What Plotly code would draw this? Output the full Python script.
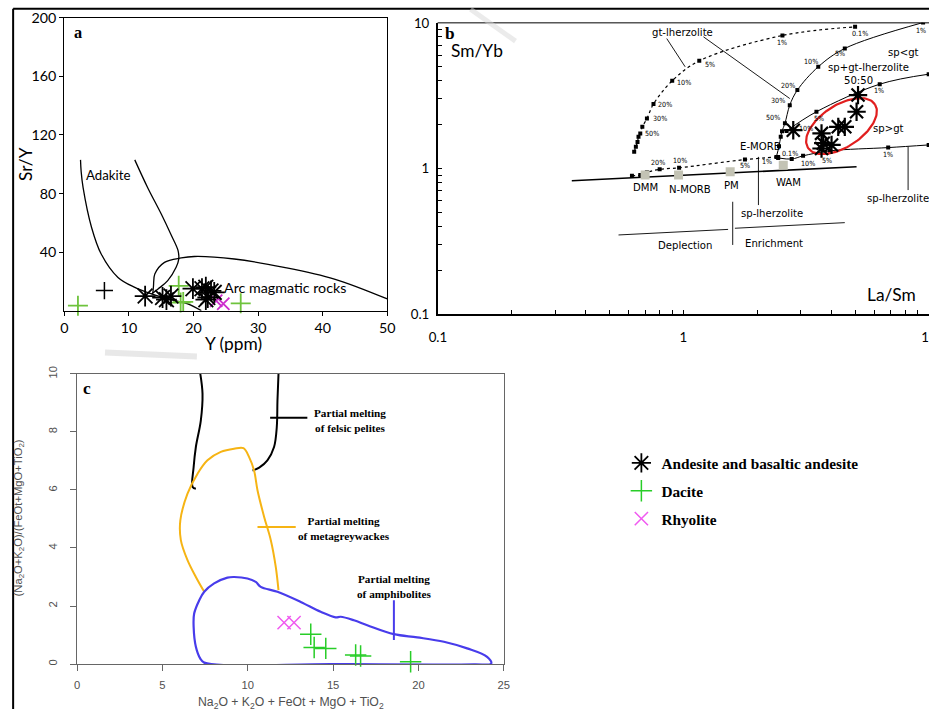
import numpy as np
import plotly.graph_objects as go

# Calibrated page mapping: picture = (8 px body margin + figure px) * (929/945, 709/725)
PIC_W, PIC_H, OFF = 929, 709, 8
SX, SY = 945 / 929, 725 / 709
FW, FH = 937, 717
K = 1.02  # compensation for the slight down-scaling of text and markers

def px(x):
    return (x * SX - OFF) / FW

def py(y):
    return 1 - (y * SY - OFF) / FH

def fs(s):
    return s * K

# ---------------- Panel a data (Sr/Y vs Y) ----------------
adakite_left_x = [2.5, 2.6, 2.9, 4.2, 5.7, 8.3, 10.9, 13.5, 17.1, 19.1, 21.2]
adakite_left_y = [103, 95, 84, 57, 38.7, 22.7, 15.9, 11.4, 6.8, 4.7, 0]
adakite_right_x = [10.9, 12.9, 15.0, 16.5, 17.6, 17.7, 17.3, 16.0, 14.5, 13.5]
adakite_right_y = [103, 84, 66, 52, 41, 35, 29.6, 20.5, 14.8, 11.4]
arc_x = [13.7, 13.8, 14.0, 15.5, 18.1, 20.1, 26.3, 34.0, 41.8, 50.0]
arc_y = [12, 17, 25, 33, 36, 37, 35.3, 29.6, 21.6, 8]

andesite_a_x = [12.5, 15.2, 15.8, 16.5, 19.9, 21.3, 21.9, 22.7, 22.2, 23.2, 21.9]
andesite_a_y = [10, 9, 7.5, 10, 15, 15, 16, 13.5, 9, 12.5, 7.5]
dacite_a_x = [2.1, 17.7, 18.0, 18.4, 27.3]
dacite_a_y = [3.4, 17, 5.5, 6, 5]
other_a_x = [6.2]
other_a_y = [13.7]
rhyolite_a_x = [23.5, 24.6]
rhyolite_a_y = [6.8, 4.8]

# ---------------- Panel b data (Sm/Yb vs La/Sm) ----------------
gt_x = [0.63, 0.64, 0.65, 0.656, 0.667, 0.68, 0.71, 0.755, 0.90, 1.16, 2.53, 5.0]
gt_y = [1.30, 1.41, 1.52, 1.65, 1.74, 1.93, 2.20, 2.77, 4.0, 5.48, 8.19, 9.39]
dmm_x = [0.617, 0.667, 0.71, 0.80, 0.96, 1.78, 2.43]
dmm_y = [0.89, 0.90, 0.94, 0.985, 1.01, 1.15, 1.20]
steep_x = [2.39, 2.45, 2.49, 2.52, 2.59, 2.71, 2.91, 3.54, 4.54, 9.46]
steep_y = [1.20, 1.42, 1.65, 1.80, 2.04, 2.72, 3.45, 4.99, 6.67, 10.05]
mix_x = [2.63, 3.48, 6.30, 9.97]
mix_y = [1.81, 2.45, 3.79, 4.44]
sp_x = [2.43, 2.76, 3.07, 3.95, 6.82, 9.97]
sp_y = [1.18, 1.16, 1.22, 1.32, 1.39, 1.45]
base_x = [0.351, 5.07]
base_y = [0.823, 1.027]
reservoir_x = [0.698, 0.955, 1.55, 2.55]
reservoir_y = [0.90, 0.90, 0.95, 1.05]

andesite_b_x = [2.80, 3.65, 3.71, 4.01, 3.65, 4.27, 4.54, 5.07, 5.14]
andesite_b_y = [1.83, 1.74, 1.49, 1.45, 1.37, 1.93, 1.93, 2.45, 3.19]

# leader / guide lines in panel b
guide_lines_b = [
    ([0.855, 1.016], [7.8, 4.99]),
    ([1.206, 2.71], [8.02, 3.02]),
    ([2.02, 2.02], [1.20, 0.56]),
    ([8.22, 8.22], [1.41, 0.71]),
    ([0.544, 1.52], [0.349, 0.381]),
    ([1.62, 4.54], [0.388, 0.424]),
    ([1.587, 1.587], [0.59, 0.298]),
]

# ---------------- Panel c data ----------------
felsic_left_x = [7.22, 7.35, 7.25, 6.96, 6.83, 6.77, 6.96]
felsic_left_y = [10.0, 9.31, 8.39, 7.48, 6.79, 6.10, 6.04]
felsic_right_x = [11.80, 11.74, 11.70, 11.54, 11.15, 10.67, 10.28]
felsic_right_y = [10.0, 9.08, 8.17, 7.48, 7.02, 6.77, 6.67]
greywacke_x = [7.45, 6.96, 6.47, 6.08, 6.05, 6.47, 7.06, 7.64, 8.42, 9.20, 9.75,
               10.08, 10.37, 10.57, 10.96, 11.35, 11.64, 11.80]
greywacke_y = [2.49, 3.00, 3.58, 4.27, 4.95, 5.87, 6.56, 7.02, 7.31, 7.42, 7.44,
               7.13, 6.67, 5.99, 5.07, 4.27, 3.35, 2.55]
amphib_x = [7.45, 8.03, 8.81, 9.20, 9.98, 10.47, 10.76, 11.74, 13.10, 14.27, 15.15,
            15.44, 16.22, 17.00, 18.56, 19.93, 21.49, 22.85, 24.02, 24.26, 23.25,
            15.05, 7.45, 7.22, 6.96, 6.83, 6.86, 7.16, 7.45]
amphib_y = [2.49, 2.78, 2.98, 3.00, 2.95, 2.83, 2.66, 2.49, 2.14, 1.80, 1.61,
            1.63, 1.51, 1.34, 1.03, 0.92, 0.77, 0.54, 0.25, 0.02, -0.01,
            0.0, 0.05, 0.19, 0.60, 1.28, 1.74, 2.20, 2.49]
dacite_c_x = [13.69, 13.89, 14.57, 16.32, 16.61, 19.54]
dacite_c_y = [1.03, 0.57, 0.54, 0.31, 0.28, 0.08]
rhyolite_c_x = [12.13, 12.71]
rhyolite_c_y = [1.43, 1.43]

BLUE = "rgb(72,60,235)"
ORANGE = "rgb(246,180,20)"
GREEN_A = "rgb(110,195,60)"
GREEN_C = "rgb(40,205,40)"
MAG_A = "rgb(205,45,205)"
MAG_C = "rgb(240,90,240)"

fig = go.Figure()

# ---- panel a ----
for xs, ys in [(adakite_left_x, adakite_left_y), (adakite_right_x, adakite_right_y), (arc_x, arc_y)]:
    fig.add_trace(go.Scatter(x=xs, y=ys, mode="lines", line=dict(color="black", width=1.3, shape="spline"),
                             showlegend=False, hoverinfo="skip", xaxis="x", yaxis="y"))
fig.add_trace(go.Scatter(x=dacite_a_x, y=dacite_a_y, mode="markers", showlegend=False, cliponaxis=False,
                         marker=dict(symbol="cross-thin-open", size=fs(14), color=GREEN_A, line=dict(width=1.8, color=GREEN_A)),
                         xaxis="x", yaxis="y"))
fig.add_trace(go.Scatter(x=other_a_x, y=other_a_y, mode="markers", showlegend=False, cliponaxis=False,
                         marker=dict(symbol="cross-thin-open", size=fs(12), color="black", line=dict(width=1.5, color="black")),
                         xaxis="x", yaxis="y"))
fig.add_trace(go.Scatter(x=rhyolite_a_x, y=rhyolite_a_y, mode="markers", showlegend=False, cliponaxis=False,
                         marker=dict(symbol="x-thin-open", size=fs(12), color=MAG_A, line=dict(width=1.8, color=MAG_A)),
                         xaxis="x", yaxis="y"))
fig.add_trace(go.Scatter(x=andesite_a_x, y=andesite_a_y, mode="markers", name="Andesite and basaltic andesite",
                         legendgroup="g1", cliponaxis=False,
                         marker=dict(symbol="asterisk-open", size=fs(17), color="black", line=dict(width=1.8, color="black")),
                         xaxis="x", yaxis="y"))

# ---- panel b ----
fig.add_trace(go.Scatter(x=base_x, y=base_y, mode="lines", line=dict(color="black", width=1.6),
                         showlegend=False, hoverinfo="skip", xaxis="x2", yaxis="y2"))
for xs, ys in guide_lines_b:
    fig.add_trace(go.Scatter(x=xs, y=ys, mode="lines", line=dict(color="black", width=0.9),
                             showlegend=False, hoverinfo="skip", xaxis="x2", yaxis="y2"))
for xs, ys in [(gt_x, gt_y), (dmm_x, dmm_y)]:
    fig.add_trace(go.Scatter(x=xs, y=ys, mode="lines+markers",
                             line=dict(color="black", width=1.2, dash="dot", shape="spline"),
                             marker=dict(symbol="square", size=4, color="black"),
                             showlegend=False, hoverinfo="skip", xaxis="x2", yaxis="y2"))
for xs, ys in [(steep_x, steep_y), (mix_x, mix_y), (sp_x, sp_y)]:
    fig.add_trace(go.Scatter(x=xs, y=ys, mode="lines+markers",
                             line=dict(color="black", width=1.0, shape="spline"),
                             marker=dict(symbol="square", size=4, color="black"),
                             showlegend=False, hoverinfo="skip", xaxis="x2", yaxis="y2"))
fig.add_trace(go.Scatter(x=reservoir_x, y=reservoir_y, mode="markers",
                         marker=dict(symbol="square", size=9, color="rgb(195,195,180)"),
                         showlegend=False, hoverinfo="skip", xaxis="x2", yaxis="y2"))

# red ellipse around the samples (drawn in log space; 246 px per x-decade, 145.8 px per y-decade)
cx, cy = 0.6436, 0.2906
a_px, b_px, th = 40.0, 21.0, np.deg2rad(33)
t = np.linspace(0, 2 * np.pi, 120)
dx = a_px * np.cos(t) * np.cos(th) - b_px * np.sin(t) * np.sin(th)
dy = a_px * np.cos(t) * np.sin(th) + b_px * np.sin(t) * np.cos(th)
fig.add_trace(go.Scatter(x=10 ** (cx + dx / 246.0), y=10 ** (cy + dy / 145.8), mode="lines",
                         line=dict(color="rgb(225,30,30)", width=2.2),
                         showlegend=False, hoverinfo="skip", xaxis="x2", yaxis="y2"))
fig.add_trace(go.Scatter(x=andesite_b_x, y=andesite_b_y, mode="markers", showlegend=False,
                         marker=dict(symbol="asterisk-open", size=fs(15), color="black", line=dict(width=2.2, color="black")),
                         xaxis="x2", yaxis="y2"))

# ---- panel c ----
for xs, ys in [(felsic_left_x, felsic_left_y), (felsic_right_x, felsic_right_y)]:
    fig.add_trace(go.Scatter(x=xs, y=ys, mode="lines", line=dict(color="black", width=2, shape="spline"),
                             showlegend=False, hoverinfo="skip", xaxis="x3", yaxis="y3"))
fig.add_trace(go.Scatter(x=greywacke_x, y=greywacke_y, mode="lines", line=dict(color=ORANGE, width=2, shape="spline"),
                         showlegend=False, hoverinfo="skip", xaxis="x3", yaxis="y3"))
fig.add_trace(go.Scatter(x=amphib_x, y=amphib_y, mode="lines", line=dict(color=BLUE, width=2.2, shape="spline"),
                         showlegend=False, hoverinfo="skip", xaxis="x3", yaxis="y3", cliponaxis=False))
for xs, ys, col in [([11.31, 13.49], [8.49, 8.49], "black"), ([10.57, 12.81], [4.72, 4.72], ORANGE),
                    ([18.56, 18.56], [2.20, 0.83], BLUE)]:
    fig.add_trace(go.Scatter(x=xs, y=ys, mode="lines", line=dict(color=col, width=2),
                             showlegend=False, hoverinfo="skip", xaxis="x3", yaxis="y3"))
fig.add_trace(go.Scatter(x=dacite_c_x, y=dacite_c_y, mode="markers", name="Dacite", legendgroup="g2",
                         marker=dict(symbol="cross-thin-open", size=fs(15), color=GREEN_C, line=dict(width=1.5, color=GREEN_C)),
                         xaxis="x3", yaxis="y3", cliponaxis=False))
fig.add_trace(go.Scatter(x=rhyolite_c_x, y=rhyolite_c_y, mode="markers", name="Rhyolite", legendgroup="g3",
                         marker=dict(symbol="x-thin-open", size=fs(13), color=MAG_C, line=dict(width=1.5, color=MAG_C)),
                         xaxis="x3", yaxis="y3", cliponaxis=False))

SANS = "Lato, 'Open Sans', sans-serif"
NARROW = "'Liberation Sans Narrow', 'DejaVu Sans Condensed', 'Arial Narrow', sans-serif"
SERIF = "'Liberation Serif', 'Times New Roman', serif"
ARIAL = "'Liberation Sans', Arial, sans-serif"
GREY = "#505050"

annotations = []

def ann(text, x, y, xref="paper", yref="paper", size=12, family=SANS, color="black", angle=0,
        xanchor="center", yanchor="middle"):
    annotations.append(dict(text=text, x=x, y=y, xref=xref, yref=yref, showarrow=False,
                            font=dict(size=fs(size), family=family, color=color), textangle=angle,
                            xanchor=xanchor, yanchor=yanchor))

# panel a labels
ann("<b>a</b>", 1.2, 190, "x", "y", size=16, family=SERIF, xanchor="left")
ann("Adakite", 6.7, 93, "x", "y", size=13)
ann("Arc magmatic rocks", 24.4, 16, "x", "y", size=14, xanchor="left")
ann("Sr/Y", px(25), py(163), size=17, angle=-90)
ann("Y (ppm)", px(233), py(343), size=17)

# panel b labels
def annb(text, xv, yv, size=9, family=NARROW, **kw):
    ann(text, np.log10(xv), np.log10(yv), "x2", "y2", size=size, family=family, **kw)

annb("<b>b</b>", 0.112, 8.45, size=17, family=SERIF)
annb("Sm/Yb", 0.1445, 6.49, size=17, family=SANS)
annb("La/Sm", 7.03, 0.137, size=17, family=SANS)
for txt, xv, yv in [("gt-lherzolite", 0.994, 8.58), ("sp&lt;gt", 7.84, 6.22),
                    ("50:50", 5.14, 4.04), ("sp&gt;gt", 6.86, 1.88), ("E-MORB", 2.05, 1.41),
                    ("DMM", 0.703, 0.736), ("N-MORB", 1.064, 0.718), ("PM", 1.57, 0.768), ("WAM", 2.69, 0.797),
                    ("sp-lherzolite", 2.29, 0.491), ("sp-lherzolite", 7.5, 0.62),
                    ("Deplection", 1.016, 0.294), ("Enrichment", 2.34, 0.306)]:
    annb(txt, xv, yv, size=11)
annb("sp+gt-lherzolite", 3.80, 4.94, size=11, xanchor="left")
for txt, xv, yv in [("5%", 1.283, 5.18), ("10%", 1.006, 3.89), ("20%", 0.842, 2.75), ("30%", 0.804, 2.20),
                    ("50%", 0.743, 1.74), ("1%", 2.53, 7.29), ("0.1%", 5.23, 8.45),
                    ("20%", 0.791, 1.094), ("10%", 0.969, 1.14), ("5%", 1.78, 1.04), ("1%", 2.18, 1.11),
                    ("50%", 2.31, 2.24), ("30%", 2.43, 2.94), ("20%", 2.67, 3.73), ("10%", 3.32, 5.46),
                    ("5%", 4.33, 6.16), ("1%", 9.30, 8.91),
                    ("5%", 3.57, 2.20), ("10%", 3.17, 1.88), ("1%", 6.24, 3.45),
                    ("0.1%", 2.71, 1.27), ("10%", 3.22, 1.08), ("5%", 3.83, 1.13), ("1%", 6.81, 1.25)]:
    annb(txt, xv, yv, size=7)

# panel c labels
ann("<b>c</b>", 0.25, 9.48, "x3", "y3", size=17, family=SERIF, xanchor="left")
ann("<b>Partial melting<br>of felsic pelites</b>", 15.99, 8.39, "x3", "y3", size=11, family=SERIF)
ann("<b>Partial melting<br>of metagreywackes</b>", 15.64, 4.67, "x3", "y3", size=11, family=SERIF)
ann("<b>Partial melting<br>of amphibolites</b>", 18.56, 2.66, "x3", "y3", size=11, family=SERIF)
ann("(Na<sub>2</sub>O+K<sub>2</sub>O)/(FeOt+MgO+TiO<sub>2</sub>)", px(18), py(518), size=11,
    family=ARIAL, color=GREY, angle=-90)
ann("Na<sub>2</sub>O + K<sub>2</sub>O + FeOt + MgO + TiO<sub>2</sub>", px(290), py(703), size=12,
    family=ARIAL, color=GREY)

log_ticks = [m * 10 ** e for e in (-1, 0) for m in range(1, 10)] + [10]
log_text = ["0.1" if v == 0.1 else ("1" if v == 1 else ("10" if v == 10 else "")) for v in log_ticks]

shapes = [
    dict(type="line", xref="paper", yref="paper", x0=px(12), x1=1, y0=py(7.5), y1=py(7.5),
         line=dict(color="black", width=2)),
    dict(type="line", xref="paper", yref="paper", x0=px(12), x1=px(12), y0=py(7.5), y1=0,
         line=dict(color="black", width=2)),
    # top border of panel b
    dict(type="line", xref="paper", yref="paper", x0=px(437), x1=1, y0=py(21.7), y1=py(21.7),
         line=dict(color="black", width=1)),
    # faint watermark strokes
    dict(type="line", xref="paper", yref="paper", x0=px(470), x1=px(515), y0=py(8), y1=py(40),
         line=dict(color="rgba(215,215,215,0.5)", width=5)),
    dict(type="line", xref="paper", yref="paper", x0=px(104), x1=px(196), y0=py(352), y1=py(356),
         line=dict(color="rgba(210,210,210,0.5)", width=6)),
]

tick_a = dict(family=SANS, size=fs(14), color="black")
tick_b = dict(family=SANS, size=fs(13), color="black")
tick_c = dict(family=ARIAL, size=fs(11), color=GREY)

fig.update_layout(
    width=FW, height=FH, margin=dict(l=0, r=0, t=0, b=0),
    paper_bgcolor="white", plot_bgcolor="white",
    showlegend=True,
    legend=dict(x=px(621), y=py(446), xanchor="left", yanchor="top", bgcolor="rgba(0,0,0,0)",
                font=dict(family=SERIF, size=fs(15), color="black", weight="bold"), tracegroupgap=5,
                traceorder="grouped"),
    xaxis=dict(domain=[px(63.3), px(386.7)], anchor="y", range=[0, 50], tickvals=[0, 10, 20, 30, 40, 50],
               showline=True, mirror=True, linecolor="black", linewidth=1.3, ticks="outside", ticklen=4,
               tickcolor="black", showgrid=False, zeroline=False, tickfont=tick_a),
    yaxis=dict(domain=[py(310), py(16.7)], anchor="x", range=[0, 200], tickvals=[40, 80, 120, 160, 200],
               showline=True, mirror=True, linecolor="black", linewidth=1.3, ticks="outside", ticklen=4,
               tickcolor="black", showgrid=False, zeroline=False, tickfont=tick_a),
    xaxis2=dict(domain=[px(437.3), 1.0], anchor="y2", type="log", range=[-1, 1], tickvals=log_ticks,
                ticktext=log_text, showline=True, linecolor="black", linewidth=2, ticks="inside", ticklen=4,
                tickcolor="black", tickwidth=1.3, showgrid=False, zeroline=False, ticklabelstandoff=10,
                tickfont=tick_b),
    yaxis2=dict(domain=[py(313.3), py(21.7)], anchor="x2", type="log", range=[-1, 1], tickvals=log_ticks,
                ticktext=log_text, showline=True, linecolor="black", linewidth=2, ticks="inside", ticklen=4,
                tickcolor="black", tickwidth=1.3, showgrid=False, zeroline=False, ticklabelstandoff=4,
                tickfont=tick_b),
    xaxis3=dict(domain=[px(76), px(503.3)], anchor="y3", range=[0, 25], tickvals=[0, 5, 10, 15, 20, 25],
                showline=True, mirror=True, linecolor="#666", linewidth=1.3, ticks="outside", ticklen=6,
                tickcolor="#666", showgrid=False, zeroline=False, ticklabelstandoff=4, tickfont=tick_c),
    yaxis3=dict(domain=[py(664), py(373.3)], anchor="x3", range=[0, 10], tickvals=[0, 2, 4, 6, 8, 10],
                showline=True, mirror=True, linecolor="#666", linewidth=1.3, ticks="outside", ticklen=6,
                tickcolor="#666", showgrid=False, zeroline=False, tickangle=-90, ticklabelstandoff=8,
                tickfont=tick_c),
    annotations=annotations,
    shapes=shapes,
)

fig.write_html("out.html")
